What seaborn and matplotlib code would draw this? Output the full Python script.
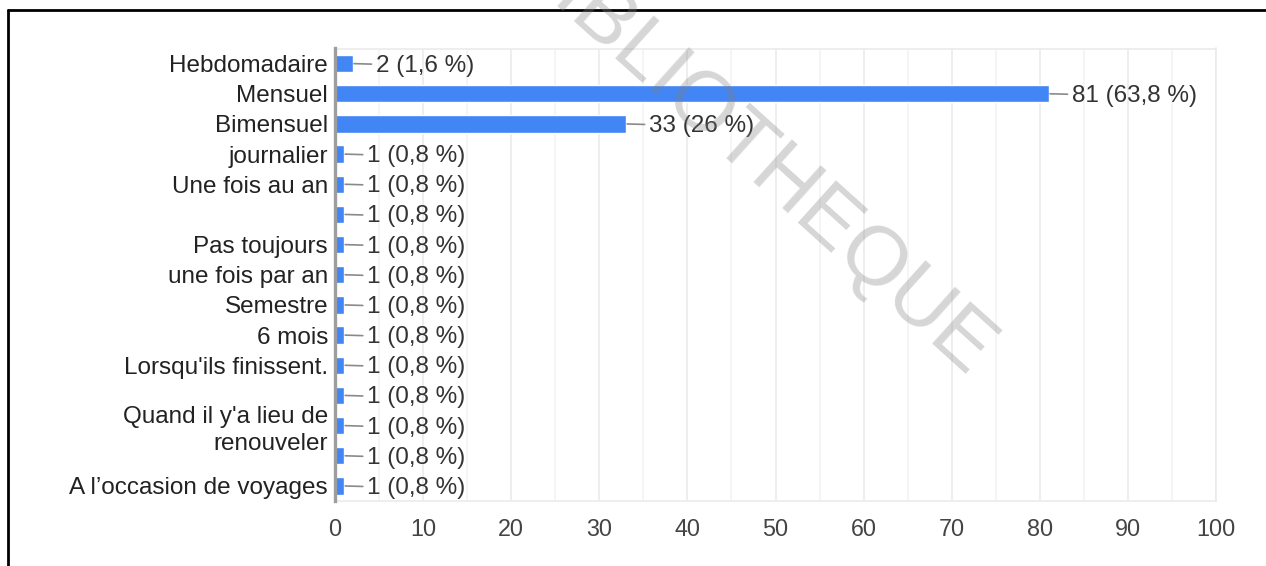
import matplotlib
matplotlib.use("Agg")
import matplotlib.pyplot as plt
from matplotlib.lines import Line2D
from matplotlib.ticker import MultipleLocator
import pandas as pd
import seaborn as sns

# Answers to "fréquence" question (counts and share of 127 responses)
labels = [
    "Hebdomadaire", "Mensuel", "Bimensuel", "journalier", "Une fois au an",
    "", "Pas toujours", "une fois par an", "Semestre", "6 mois",
    "Lorsqu'ils finissent.", "", "Quand il y'a lieu de\nrenouveler", "",
    "A l\u2019occasion de voyages",
]
counts = [2, 81, 33, 1, 1, 1, 1, 1, 1, 1, 1, 1, 1, 1, 1]
percents = ["1,6", "63,8", "26", "0,8", "0,8", "0,8", "0,8", "0,8", "0,8",
            "0,8", "0,8", "0,8", "0,8", "0,8", "0,8"]
x_ticks = [0, 10, 20, 30, 40, 50, 60, 70, 80, 90, 100]

sns.set_theme(style="white")
plt.rcParams["font.family"] = ["Liberation Sans", "DejaVu Sans"]

W, H = 1266, 566
fig = plt.figure(figsize=(W / 100, H / 100), dpi=100)
ax = fig.add_axes([335 / W, 1 - 501 / H, (1216 - 335) / W, (501 - 48.5) / H])

df = pd.DataFrame({"rang": list(range(len(counts))), "nombre": counts})
sns.barplot(data=df, x="nombre", y="rang", orient="h", color="#4285F4",
            saturation=1, width=0.57, ax=ax, zorder=3)

ax.set_xlim(x_ticks[0], x_ticks[-1])
ax.set_ylim(len(counts) - 0.5, -0.5)
ax.set_xticks(x_ticks)
ax.xaxis.set_minor_locator(MultipleLocator(5))
ax.set_xticklabels([str(t) for t in x_ticks])
ax.set_yticks(range(len(labels)))
ax.set_yticklabels(labels, linespacing=1.3)
ax.set_xlabel("")
ax.set_ylabel("")

ax.tick_params(axis="y", length=0, pad=5, labelsize=17.5, labelcolor="#222222")
ax.tick_params(axis="x", which="both", length=0, pad=12, labelsize=16.8,
               labelcolor="#444444")

ax.grid(True, axis="x", which="major", color="#ebebeb", lw=1.2, zorder=0)
ax.grid(True, axis="x", which="minor", color="#f3f3f3", lw=1.2, zorder=0)
ax.set_axisbelow(True)
for side in ("top", "right", "bottom"):
    ax.spines[side].set_color("#ebebeb")
    ax.spines[side].set_linewidth(1.2)
ax.spines["left"].set_color("#9e9e9e")
ax.spines["left"].set_linewidth(2.4)
ax.spines["left"].set_zorder(5)

# value labels with a short leader line
for i, (c, p) in enumerate(zip(counts, percents)):
    ax.annotate(
        f"{c} ({p} %)", xy=(c, i), xytext=(16.5, -1.5),
        textcoords="offset points",
        ha="left", va="center", fontsize=17.5, color="#333333",
        arrowprops=dict(arrowstyle="-", color="#8a8a8a", lw=1.2,
                        shrinkA=0.5, shrinkB=1),
        zorder=4,
    )

# watermark
fig.text(752 / W, 1 - 158 / H, "BIBLIOTHEQUE", rotation=-42,
         rotation_mode="anchor", ha="center", va="center", fontsize=60,
         color="#808080", alpha=0.32, zorder=10)

# page frame
fig.add_artist(Line2D([8 / W, 8 / W], [0, 1 - 10 / H], color="black", lw=2,
                      transform=fig.transFigure))
fig.add_artist(Line2D([8 / W, 1], [1 - 10 / H, 1 - 10 / H], color="black", lw=2,
                      transform=fig.transFigure))

fig.savefig("out.png", dpi=100, facecolor="white")
